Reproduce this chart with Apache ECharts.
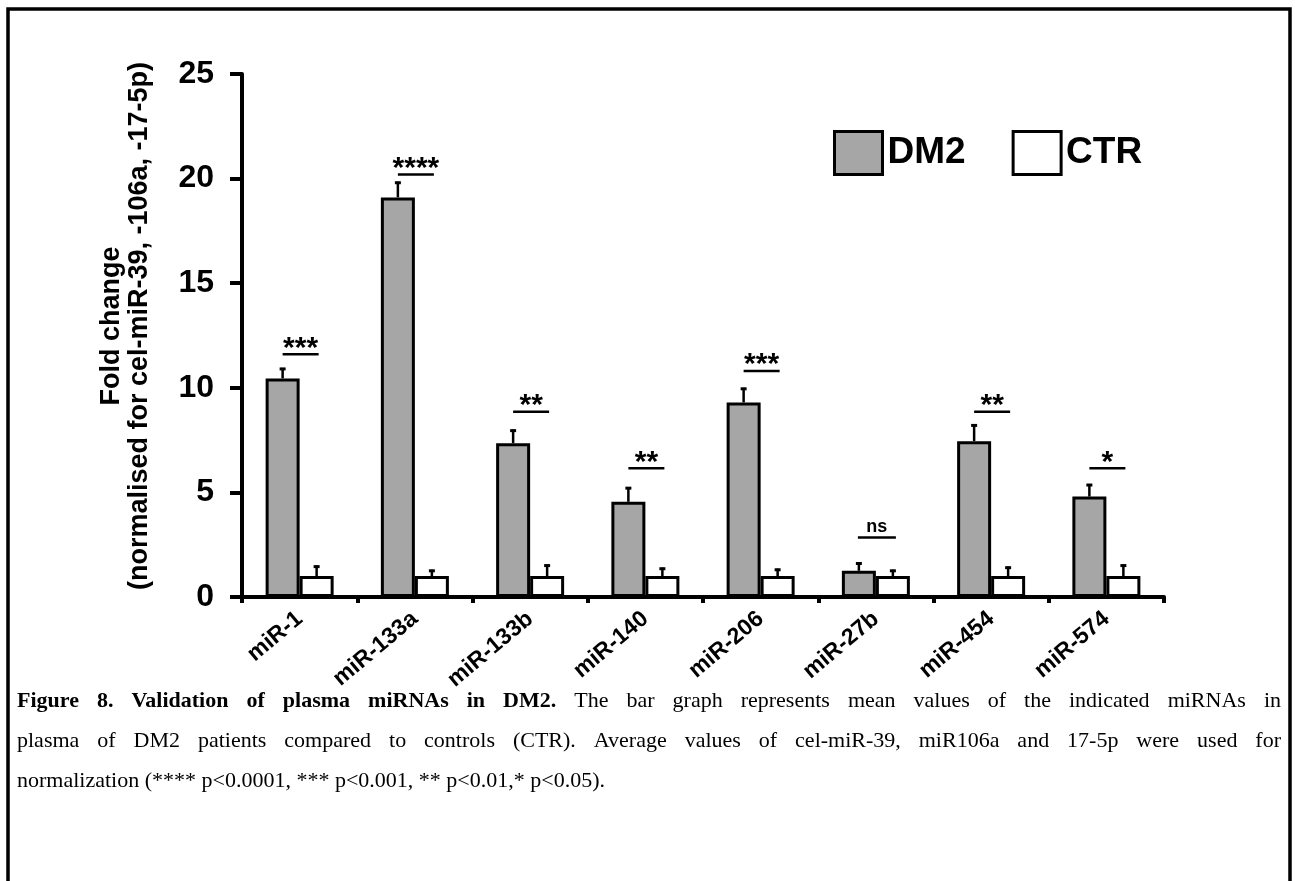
<!DOCTYPE html>
<html>
<head>
<meta charset="utf-8">
<script src="https://cdn.jsdelivr.net/npm/echarts@6/dist/echarts.min.js"></script>
<style>
  html, body { margin: 0; padding: 0; background: #fff; }
  #chart { width: 1295px; height: 881px; }
</style>
</head>
<body>
<div id="chart"></div>
<script>
// ---------------- data ----------------
const categories = ['miR-1', 'miR-133a', 'miR-133b', 'miR-140', 'miR-206', 'miR-27b', 'miR-454', 'miR-574'];
const dm2Values = [10.45, 19.1, 7.35, 4.55, 9.3, 1.25, 7.45, 4.8];
const dm2Errors = [0.5, 0.75, 0.65, 0.7, 0.7, 0.4, 0.8, 0.6];
const ctrValues = [1, 1, 1, 1, 1, 1, 1, 1];
const ctrErrors = [0.5, 0.3, 0.55, 0.4, 0.35, 0.3, 0.45, 0.55];
const sigLevels = [11.6, 20.2, 8.85, 6.15, 10.8, 2.85, 8.85, 6.15];
const sigLabels = ['***', '****', '**', '**', '***', 'ns', '**', '*'];
const yMin = 0, yMax = 25, yInterval = 5;
const seriesNames = ['DM2', 'CTR'];
const yAxisTitle = 'Fold change\n(normalised for cel-miR-39, -106a, -17-5p)';
const captionLines = [
  [{ t: 'Figure 8. Validation of plasma miRNAs in DM2.', b: true }, { t: 'The bar graph represents mean values of the indicated miRNAs in', b: false }],
  [{ t: 'plasma of DM2 patients compared to controls (CTR). Average values of cel-miR-39, miR106a and 17-5p were used for', b: false }],
  [{ t: 'normalization (**** p<0.0001, *** p<0.001, ** p<0.01,* p<0.05).', b: false }]
];
const captionJustify = [true, true, false];

// ---------------- style ----------------
const SANS = '"Liberation Sans", Arial, sans-serif';
const SERIF = '"Liberation Serif", "Times New Roman", serif';
const BAR_W = 34;
const GREY = '#a6a6a6';

const chart = echarts.init(document.getElementById('chart'), null, { renderer: 'canvas' });

function errRender(sign) {
  return function (params, api) {
    const i = api.value(0), v = api.value(1), e = api.value(2);
    const base = api.coord([i, v]);
    const top = api.coord([i, v + e]);
    const x = base[0] + sign * BAR_W / 2;
    return {
      type: 'group',
      children: [
        { type: 'line', shape: { x1: x, y1: base[1], x2: x, y2: top[1] }, style: { stroke: '#000', lineWidth: 2.5 } },
        { type: 'line', shape: { x1: x - 3, y1: top[1] + 1, x2: x + 3, y2: top[1] + 1 }, style: { stroke: '#000', lineWidth: 3 } }
      ]
    };
  };
}

function sigRender(params, api) {
  const i = api.value(0), v = api.value(1);
  const p = api.coord([i, v]);
  const lab = sigLabels[params.dataIndex];
  const isNs = lab === 'ns';
  const half = isNs ? 19 : 18;
  return {
    type: 'group',
    children: [
      { type: 'line', shape: { x1: p[0] - half + 1, y1: p[1], x2: p[0] + half + 1, y2: p[1] }, style: { stroke: '#000', lineWidth: 2.5 } },
      {
        type: 'text', x: p[0] + 1, y: isNs ? p[1] - 10 : p[1] - 6,
        style: {
          text: lab, fill: '#000', align: 'center', verticalAlign: 'middle',
          fontFamily: SANS, fontWeight: 'bold', fontSize: isNs ? 18 : 30
        }
      }
    ]
  };
}

// caption layout (word by word, justified)
const measureCtx = document.createElement('canvas').getContext('2d');
function fontStr(bold, fs) { return (bold ? 'bold ' : '') + fs + 'px ' + SERIF; }
function measure(t, bold, fs) { measureCtx.font = fontStr(bold, fs); return measureCtx.measureText(t).width; }
const CAP_X = 17, CAP_W = 1264;
const capFs = 22;
const capY = [701, 741, 781];

const captionEls = [];
captionLines.forEach((segs, li) => {
  const words = [];
  segs.forEach(s => s.t.split(' ').forEach(w => words.push({ w, b: s.b })));
  const widths = words.map(o => measure(o.w, o.b, capFs));
  const sum = widths.reduce((a, b) => a + b, 0);
  const gap = captionJustify[li] ? (CAP_W - sum) / (words.length - 1) : measure(' ', false, capFs);
  let x = CAP_X;
  words.forEach((o, k) => {
    captionEls.push({
      type: 'text', x: x, y: capY[li], silent: true,
      style: { text: o.w, font: fontStr(o.b, capFs), fill: '#000', align: 'left', verticalAlign: 'middle' }
    });
    x += widths[k] + gap;
  });
});

const option = {
  backgroundColor: '#fff',
  animation: false,
  grid: { left: 242, right: 131, top: 74, bottom: 284, containLabel: false, outerBoundsMode: 'none' },
  legend: {
    data: seriesNames,
    left: 828, top: 125,
    icon: 'rect',
    itemWidth: 48, itemHeight: 43, itemGap: 46,
    textStyle: { fontFamily: SANS, fontWeight: 'bold', fontSize: 37, color: '#000' },
    itemStyle: { borderColor: '#000', borderWidth: 3 }
  },
  xAxis: {
    type: 'category',
    data: categories,
    axisLine: { show: true, lineStyle: { color: '#000', width: 4 } },
    axisTick: { show: true, alignWithLabel: false, length: 6, lineStyle: { color: '#000', width: 4 } },
    axisLabel: {
      rotate: 40, margin: 19, interval: 0,
      fontFamily: SANS, fontWeight: 'bold', fontSize: 23, color: '#000'
    },
    splitLine: { show: false }
  },
  yAxis: {
    type: 'value',
    min: yMin, max: yMax, interval: yInterval,
    axisLine: { show: true, lineStyle: { color: '#000', width: 4 } },
    axisTick: { show: true, length: 12, lineStyle: { color: '#000', width: 4 } },
    axisLabel: { margin: 28, fontFamily: SANS, fontWeight: 'bold', fontSize: 32, color: '#000' },
    splitLine: { show: false }
  },
  series: [
    {
      name: seriesNames[0], type: 'bar', data: dm2Values,
      barWidth: BAR_W, barGap: '0%',
      itemStyle: { color: GREY, borderColor: '#000', borderWidth: 3 }, z: 2
    },
    {
      name: seriesNames[1], type: 'bar', data: ctrValues,
      barWidth: BAR_W, barGap: '0%',
      itemStyle: { color: '#fff', borderColor: '#000', borderWidth: 3 }, z: 2
    },
    {
      name: 'dm2err', type: 'custom', renderItem: errRender(-1),
      data: dm2Values.map((v, i) => [i, v, dm2Errors[i]]), encode: { x: 0, y: 1 }, z: 3, silent: true
    },
    {
      name: 'ctrerr', type: 'custom', renderItem: errRender(1),
      data: ctrValues.map((v, i) => [i, v, ctrErrors[i]]), encode: { x: 0, y: 1 }, z: 3, silent: true
    },
    {
      name: 'sig', type: 'custom', renderItem: sigRender,
      data: sigLevels.map((v, i) => [i, v]), encode: { x: 0, y: 1 }, z: 3, silent: true
    }
  ],
  graphic: {
    elements: [
      {
        type: 'rect', silent: true,
        shape: { x: 8, y: 9, width: 1282, height: 900 },
        style: { fill: 'none', stroke: '#000', lineWidth: 3.5 }
      },
      {
        type: 'text', x: 126, y: 326, rotation: Math.PI / 2, silent: true,
        style: {
          text: yAxisTitle, fill: '#000', align: 'center', verticalAlign: 'middle',
          fontFamily: SANS, fontWeight: 'bold', fontSize: 27, lineHeight: 28
        }
      }
    ].concat(captionEls)
  }
};
chart.setOption(option);
</script>
</body>
</html>
